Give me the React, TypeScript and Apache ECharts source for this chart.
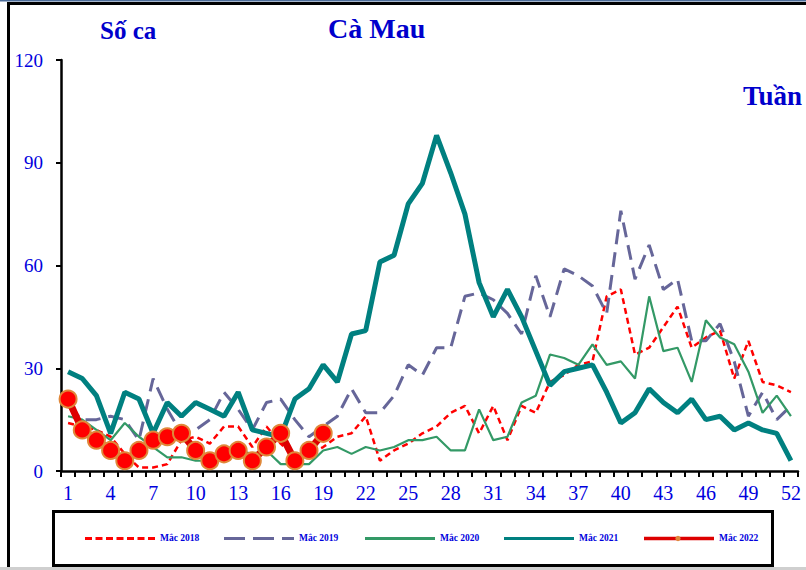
import React, { useEffect, useRef } from "react";
import * as echarts from "echarts";

const weeks = [
  "1","2","3","4","5","6","7","8","9","10","11","12","13","14","15","16","17","18","19","20",
  "21","22","23","24","25","26","27","28","29","30","31","32","33","34","35","36","37","38","39","40",
  "41","42","43","44","45","46","47","48","49","50","51","52",
];

const cases2018 = [14,13,12,10,5,1,1,2,9,10,8,13,13,7,13,8,4,5,7,10,11,16,3,6,8,11,13,17,19,11,19,9,19,17,26,28,31,32,51,53,34,36,42,48,36,39,41,27,38,26,25,23];
const cases2019 = [19,15,15,16,15,9,27,18,11,12,15,23,18,12,20,21,15,10,13,16,24,17,17,22,31,28,36,36,51,52,50,46,40,57,45,59,57,54,46,76,56,66,53,56,38,38,43,32,16,23,15,19];
const cases2020 = [16,15,12,9,14,10,7,4,4,3,3,5,6,5,6,2,2,2,6,7,5,7,6,7,9,9,10,6,6,18,9,10,20,22,34,33,31,37,31,32,27,51,35,36,26,44,39,37,29,17,22,16];
const cases2021 = [29,27,22,11,23,21,11,20,16,20,18,16,23,12,11,10,21,24,31,26,40,41,61,63,78,84,98,87,75,55,45,53,45,35,25,29,30,31,23,14,17,24,20,17,21,15,16,12,14,12,11,3];
const cases2022 = [21,12,9,6,3,6,9,10,11,6,3,5,6,3,7,11,3,6,11];

const seriesNames = ["Mắc 2018", "Mắc 2019", "Mắc 2020", "Mắc 2021", "Mắc 2022"];
const yTicks = { min: 0, max: 120, interval: 30 };

const BLUE = "#0000dd";
const SERIF = "'Liberation Serif', 'Times New Roman', serif";

const seriesColors = ["#ff0000", "#666699", "#339966", "#008080", "#dd0000"];
const seriesWidths = [2.5, 3, 2.2, 5, 7];
const seriesDash: (number[] | null)[] = [[6, 4], [15, 8], null, null, null];

export default function App() {
  const ref = useRef<HTMLDivElement>(null);

  useEffect(() => {
    if (!ref.current) return;
    const chart = echarts.init(ref.current, undefined, { renderer: "svg" });

    const legendX = [85, 224, 365, 504, 644];
    const legendY = 538.5;
    const legendGraphics: any[] = [];
    seriesNames.forEach((n, i) => {
      const x = legendX[i];
      legendGraphics.push({
        type: "line",
        shape: { x1: x, y1: legendY, x2: x + 70, y2: legendY },
        style: {
          stroke: seriesColors[i],
          lineWidth: i === 4 ? 3.5 : 3,
          lineDash: i === 0 ? [7, 3.5] : i === 1 ? [21, 8] : undefined,
        },
        silent: true,
      });
      if (i === 4) {
        legendGraphics.push({
          type: "circle",
          shape: { cx: x + 34, cy: legendY, r: 2.6 },
          style: { fill: "#e0883a" },
          silent: true,
        });
      }
      legendGraphics.push({
        type: "text",
        left: x + 75,
        top: legendY - 6,
        style: { text: n, fill: BLUE, font: `bold 9.5px ${SERIF}` },
        silent: true,
      });
    });

    chart.setOption({
      animation: false,
      backgroundColor: "#ffffff",
      grid: { left: 61, top: 60, width: 737, height: 411, containLabel: false },
      xAxis: {
        type: "category",
        data: weeks,
        boundaryGap: true,
        axisLine: { lineStyle: { color: "#000", width: 2.5 } },
        axisTick: { show: true, interval: 0, length: 6, lineStyle: { color: "#000", width: 2 } },
        axisLabel: { interval: 2, color: BLUE, fontSize: 20, fontFamily: SERIF, margin: 12 },
        splitLine: { show: false },
      },
      yAxis: {
        type: "value",
        min: yTicks.min,
        max: yTicks.max,
        interval: yTicks.interval,
        axisLine: { show: true, lineStyle: { color: "#000", width: 2.5 } },
        axisTick: { show: true, length: 5, lineStyle: { color: "#000", width: 2 } },
        axisLabel: { color: BLUE, fontSize: 19, fontFamily: SERIF, margin: 18 },
        splitLine: { show: false },
      },
      graphic: [
        { type: "rect", shape: { x: 0, y: 0, width: 806, height: 1.5 }, style: { fill: "#4d6d9a" }, silent: true },
        { type: "line", shape: { x1: 8, y1: 3.5, x2: 806, y2: 3.5 }, style: { stroke: "#000", lineWidth: 3 }, silent: true },
        { type: "line", shape: { x1: 8.5, y1: 2, x2: 8.5, y2: 567 }, style: { stroke: "#000", lineWidth: 3 }, silent: true },
        { type: "line", shape: { x1: 0, y1: 568.5, x2: 806, y2: 568.5 }, style: { stroke: "#cfcfcf", lineWidth: 3 }, silent: true },
        { type: "rect", shape: { x: 53.5, y: 511.5, width: 719, height: 54 }, style: { fill: "none", stroke: "#000", lineWidth: 3 }, silent: true },
        { type: "text", left: 100, top: 18, style: { text: "Số ca", fill: "#0000cc", font: `bold 25px ${SERIF}` }, silent: true },
        { type: "text", left: 328, top: 14, style: { text: "Cà Mau", fill: "#0000cc", font: `bold 28px ${SERIF}` }, silent: true },
        { type: "text", left: 743, top: 82, style: { text: "Tuần", fill: "#0000cc", font: `bold 27px ${SERIF}` }, silent: true },
        ...legendGraphics,
      ],
      series: [
        {
          name: seriesNames[0],
          type: "line",
          data: cases2018,
          symbol: "none",
          lineStyle: { color: seriesColors[0], width: seriesWidths[0], type: seriesDash[0] },
          z: 2,
        },
        {
          name: seriesNames[1],
          type: "line",
          data: cases2019,
          symbol: "none",
          lineStyle: { color: seriesColors[1], width: seriesWidths[1], type: seriesDash[1] },
          z: 3,
        },
        {
          name: seriesNames[2],
          type: "line",
          data: cases2020,
          symbol: "none",
          lineStyle: { color: seriesColors[2], width: seriesWidths[2] },
          z: 4,
        },
        {
          name: seriesNames[3],
          type: "line",
          data: cases2021,
          symbol: "none",
          lineStyle: { color: seriesColors[3], width: seriesWidths[3] },
          z: 5,
        },
        {
          name: seriesNames[4],
          type: "line",
          data: cases2022,
          symbol: "circle",
          symbolSize: 17,
          showSymbol: true,
          showAllSymbol: true,
          lineStyle: { color: seriesColors[4], width: seriesWidths[4] },
          itemStyle: { color: "#ff0000", borderColor: "#e0883a", borderWidth: 2 },
          z: 6,
        },
      ],
    });

    return () => chart.dispose();
  }, []);

  return (
    <div
      ref={ref}
      style={{ position: "fixed", left: 0, top: 0, width: 806, height: 570, background: "#fff" }}
    />
  );
}
